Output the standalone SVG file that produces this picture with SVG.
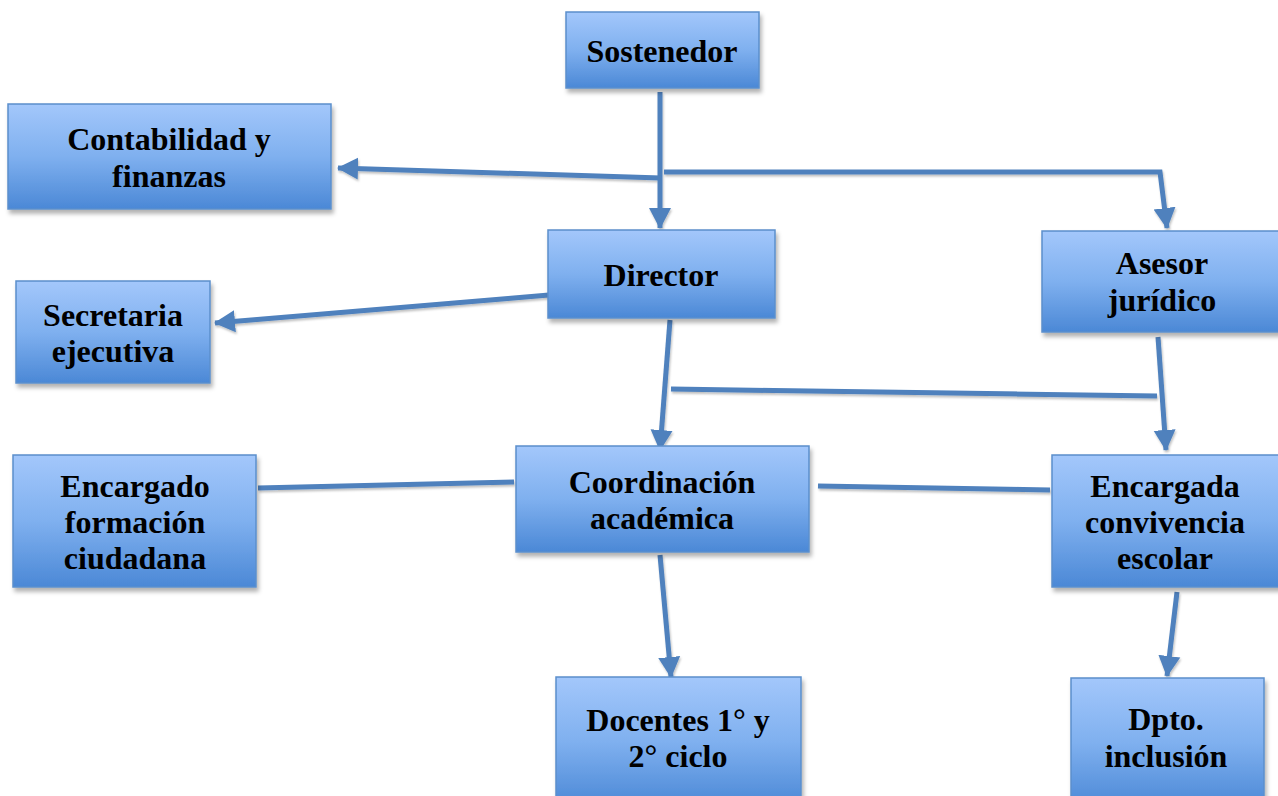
<svg xmlns="http://www.w3.org/2000/svg" width="1278" height="796" viewBox="0 0 1278 796">
<defs>
<linearGradient id="g" x1="0" y1="0" x2="0" y2="1">
<stop offset="0" stop-color="#a3c7fb"/>
<stop offset="0.5" stop-color="#7fb0ef"/>
<stop offset="1" stop-color="#4b88d6"/>
</linearGradient>
<filter id="sh" x="-10%" y="-10%" width="125%" height="130%">
<feDropShadow dx="2" dy="4" stdDeviation="2" flood-color="#000" flood-opacity="0.3"/>
</filter>
<filter id="lsh" x="-20%" y="-20%" width="140%" height="140%">
<feDropShadow dx="1" dy="2" stdDeviation="1.2" flood-color="#000" flood-opacity="0.25"/>
</filter>
<marker id="ah" markerUnits="userSpaceOnUse" markerWidth="24" markerHeight="24" viewBox="0 0 24 24" refX="20" refY="12" orient="auto">
<path d="M0,1 L21,12 L0,23 Z" fill="#4f81bd"/>
</marker>
<style>
.box{fill:url(#g);stroke:#5b8fcc;stroke-width:1.5;filter:url(#sh)}
.t{font-family:"Liberation Serif","Times New Roman",serif;font-weight:bold;font-size:32px;fill:#000;text-anchor:middle}
.c{fill:none;stroke:#4f81bd;stroke-width:5}
</style>
</defs>

<g id="connectors" filter="url(#lsh)">
<line class="c" x1="660" y1="92" x2="660" y2="228" marker-end="url(#ah)"/>
<line class="c" x1="661" y1="178" x2="338" y2="168" marker-end="url(#ah)"/>
<polyline class="c" points="664,172 1160,172 1167,228" marker-end="url(#ah)"/>
<line class="c" x1="549" y1="295" x2="215" y2="323" marker-end="url(#ah)"/>
<line class="c" x1="670" y1="320" x2="660" y2="450" marker-end="url(#ah)"/>
<line class="c" x1="671" y1="389" x2="1157" y2="396"/>
<line class="c" x1="1158" y1="337" x2="1166" y2="450" marker-end="url(#ah)"/>
<line class="c" x1="258" y1="488" x2="514" y2="482"/>
<line class="c" x1="818" y1="486" x2="1050" y2="490"/>
<line class="c" x1="660" y1="555" x2="671" y2="677" marker-end="url(#ah)"/>
<line class="c" x1="1177" y1="592" x2="1167" y2="676" marker-end="url(#ah)"/>
</g>

<g id="sostenedor">
<rect class="box" x="566" y="12" width="193" height="76"/>
<text class="t" x="662" y="62">Sostenedor</text>
</g>
<g id="contabilidad">
<rect class="box" x="8" y="104" width="323" height="105"/>
<text class="t" x="169" y="150">Contabilidad y</text>
<text class="t" x="169" y="187">finanzas</text>
</g>
<g id="director">
<rect class="box" x="548" y="230" width="227" height="88"/>
<text class="t" x="661" y="286">Director</text>
</g>
<g id="asesor">
<rect class="box" x="1042" y="231" width="240" height="101"/>
<text class="t" x="1162" y="274">Asesor</text>
<text class="t" x="1162" y="311">jurídico</text>
</g>
<g id="secretaria">
<rect class="box" x="16" y="281" width="194" height="102"/>
<text class="t" x="113" y="326">Secretaria</text>
<text class="t" x="113" y="362">ejecutiva</text>
</g>
<g id="coordinacion">
<rect class="box" x="516" y="446" width="293" height="106"/>
<text class="t" x="662" y="493">Coordinación</text>
<text class="t" x="662" y="529">académica</text>
</g>
<g id="formacion">
<rect class="box" x="13" y="455" width="243" height="132"/>
<text class="t" x="135" y="497">Encargado</text>
<text class="t" x="135" y="533">formación</text>
<text class="t" x="135" y="569">ciudadana</text>
</g>
<g id="convivencia">
<rect class="box" x="1052" y="455" width="230" height="132"/>
<text class="t" x="1165" y="497">Encargada</text>
<text class="t" x="1165" y="533">convivencia</text>
<text class="t" x="1165" y="569">escolar</text>
</g>
<g id="docentes">
<rect class="box" x="556" y="677" width="245" height="130"/>
<text class="t" x="678" y="731">Docentes 1° y</text>
<text class="t" x="678" y="767">2° ciclo</text>
</g>
<g id="inclusion">
<rect class="box" x="1071" y="678" width="193" height="130"/>
<text class="t" x="1166" y="730">Dpto.</text>
<text class="t" x="1166" y="767">inclusión</text>
</g>
</svg>
